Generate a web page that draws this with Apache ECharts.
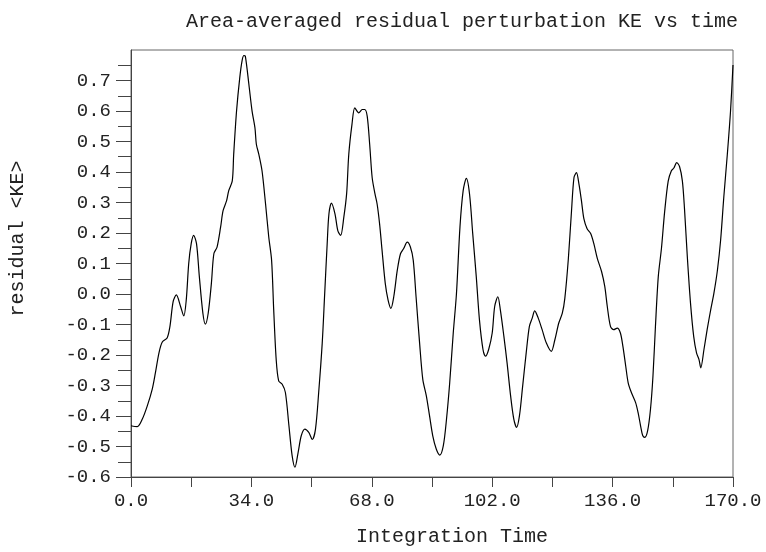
<!DOCTYPE html>
<html>
<head>
<meta charset="utf-8">
<script src="https://cdn.jsdelivr.net/npm/echarts@6/dist/echarts.min.js"></script>
<style>html,body{margin:0;padding:0;background:#fff;}#c{width:766px;height:552px;}</style>
</head>
<body>
<div id="c"></div>
<script>
const titleText = 'Area-averaged residual perturbation KE vs time';
const xName = 'Integration Time';
const yName = 'residual <KE>';
const yTickValues = [-0.6, -0.5, -0.4, -0.3, -0.2, -0.1, 0.0, 0.1, 0.2, 0.3, 0.4, 0.5, 0.6, 0.7];
const time = [0, 1.75, 3.2, 4.6, 6.0, 6.9, 7.9, 8.8, 10.2, 11.0, 11.9, 12.8, 14.0, 14.9, 15.6, 16.3, 17.0, 17.7, 18.5, 19.3, 20.3, 21.0, 21.8, 22.7, 23.4, 24.3, 25.3, 26.0, 27.0, 27.6, 28.6, 29.0, 29.8, 30.7, 31.4, 31.9, 32.3, 33.3, 34.2, 35.0, 35.4, 36.1, 37.0, 38.0, 38.9, 39.7, 40.3, 41.0, 41.7, 42.7, 43.6, 44.6, 45.5, 46.3, 47.2, 48.1, 49.1, 50.2, 51.2, 52.1, 53.0, 54.0, 54.7, 55.4, 55.9, 56.6, 57.6, 58.4, 59.2, 60.1, 60.9, 61.5, 62.4, 63.2, 64.3, 65.3, 66.0, 66.7, 67.4, 68.1, 68.9, 69.5, 70.2, 70.9, 71.8, 72.6, 73.4, 74.2, 75.2, 76.1, 77.0, 78.0, 78.9, 79.7, 80.5, 81.5, 82.4, 83.4, 84.3, 85.2, 86.2, 87.2, 88.2, 89.1, 90.0, 91.0, 91.9, 92.9, 93.8, 94.7, 95.6, 96.5, 97.5, 98.4, 99.4, 100.1, 101.0, 102.0, 102.7, 103.6, 104.3, 105.3, 106.2, 107.2, 108.1, 108.9, 109.7, 110.6, 111.6, 112.5, 113.3, 114.0, 115.0, 116.1, 117.3, 118.7, 119.7, 120.8, 121.8, 122.5, 123.5, 124.4, 125.1, 125.8, 126.5, 127.2, 127.9, 128.8, 129.8, 130.7, 131.7, 132.9, 133.8, 134.5, 135.4, 136.3, 137.3, 138.2, 138.9, 139.7, 140.4, 141.3, 142.5, 143.2, 143.9, 144.5, 145.1, 145.9, 146.7, 147.4, 148.1, 148.9, 149.8, 150.7, 151.7, 152.6, 153.3, 154.1, 154.9, 155.7, 156.3, 157.1, 158.0, 158.9, 159.7, 160.4, 160.9, 161.8, 162.7, 163.7, 164.6, 165.6, 166.5, 167.4, 168.4, 169.3, 170.0];
const residualKE = [-0.432, -0.435, -0.410, -0.367, -0.312, -0.258, -0.193, -0.158, -0.144, -0.106, -0.025, -0.003, -0.041, -0.072, -0.020, 0.100, 0.165, 0.192, 0.165, 0.057, -0.063, -0.099, -0.063, 0.035, 0.132, 0.154, 0.219, 0.273, 0.306, 0.339, 0.371, 0.458, 0.599, 0.708, 0.767, 0.782, 0.779, 0.686, 0.599, 0.545, 0.491, 0.458, 0.404, 0.295, 0.187, 0.111, -0.052, -0.215, -0.285, -0.296, -0.323, -0.432, -0.530, -0.568, -0.519, -0.464, -0.443, -0.454, -0.477, -0.443, -0.323, -0.161, 0.002, 0.165, 0.263, 0.298, 0.263, 0.208, 0.192, 0.252, 0.330, 0.458, 0.556, 0.610, 0.594, 0.605, 0.605, 0.583, 0.491, 0.382, 0.328, 0.295, 0.230, 0.143, 0.035, -0.020, -0.047, -0.009, 0.078, 0.132, 0.149, 0.170, 0.154, 0.111, -0.009, -0.161, -0.280, -0.334, -0.399, -0.464, -0.508, -0.528, -0.497, -0.410, -0.291, -0.128, 0.000, 0.220, 0.339, 0.379, 0.328, 0.198, 0.057, -0.085, -0.182, -0.204, -0.182, -0.128, -0.041, -0.009, -0.052, -0.139, -0.226, -0.334, -0.410, -0.437, -0.399, -0.302, -0.193, -0.106, -0.079, -0.055, -0.079, -0.117, -0.161, -0.188, -0.150, -0.095, -0.063, -0.015, 0.115, 0.273, 0.382, 0.398, 0.360, 0.306, 0.246, 0.214, 0.198, 0.165, 0.116, 0.073, 0.024, -0.041, -0.106, -0.117, -0.112, -0.128, -0.171, -0.236, -0.291, -0.323, -0.356, -0.389, -0.432, -0.464, -0.470, -0.448, -0.378, -0.269, -0.106, 0.057, 0.150, 0.270, 0.370, 0.404, 0.413, 0.431, 0.418, 0.371, 0.280, 0.122, -0.030, -0.139, -0.193, -0.215, -0.242, -0.182, -0.117, -0.052, 0.002, 0.078, 0.176, 0.317, 0.458, 0.599, 0.751];

const FONT = '"Liberation Mono", "DejaVu Sans Mono", monospace';
const chart = echarts.init(document.getElementById('c'), null, {renderer: 'canvas'});
const data = time.map((t, i) => [t, residualKE[i]]);
const axisColor = '#444';
chart.setOption({
  animation: false,
  backgroundColor: '#fff',
  title: {
    text: titleText,
    left: 181, top: 7,
    textStyle: {fontFamily: FONT, fontSize: 20, fontWeight: 'normal', color: '#222'}
  },
  grid: {left: 130, right: 33, top: 50, bottom: 72, show: true, borderColor: '#666', borderWidth: 1},
  xAxis: {
    type: 'value', min: 0, max: 170, interval: 34,
    name: xName, nameLocation: 'middle', nameGap: 50,
    nameTextStyle: {fontFamily: FONT, fontSize: 20, color: '#222', padding: [0, 0, 0, 40]},
    axisLine: {show: true, onZero: false, lineStyle: {color: axisColor, width: 1}},
    axisTick: {show: true, inside: false, length: 10, lineStyle: {color: axisColor}},
    minorTick: {show: true, splitNumber: 2, length: 10, lineStyle: {color: axisColor}},
    splitLine: {show: false},
    axisLabel: {fontFamily: FONT, fontSize: 19, color: '#222', margin: 14, formatter: v => v.toFixed(1)}
  },
  yAxis: {
    type: 'value', min: -0.6, max: 0.8, interval: 0.1,
    name: yName, nameLocation: 'middle', nameGap: 103, nameRotate: 90,
    nameTextStyle: {fontFamily: FONT, fontSize: 20, color: '#222', padding: [0, 0, 0, 50]},
    axisLine: {show: true, onZero: false, lineStyle: {color: axisColor, width: 1}},
    axisTick: {show: true, inside: false, length: 15, customValues: yTickValues, lineStyle: {color: axisColor}},
    minorTick: {show: true, splitNumber: 2, length: 13, lineStyle: {color: axisColor}},
    splitLine: {show: false},
    axisLabel: {fontFamily: FONT, fontSize: 19, color: '#222', margin: 20, showMaxLabel: false,
      formatter: v => v.toFixed(1)}
  },
  series: [{
    type: 'line', data: data, showSymbol: false, smooth: 0.3,
    lineStyle: {color: '#000', width: 1.2}
  }]
});
</script>
</body>
</html>
